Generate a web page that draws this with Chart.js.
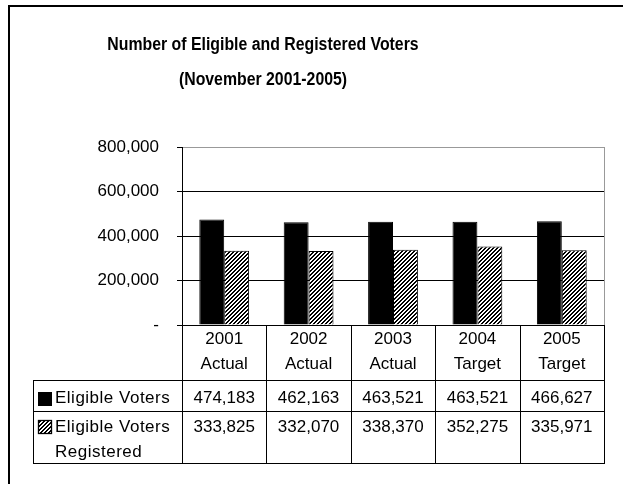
<!DOCTYPE html>
<html>
<head>
<meta charset="utf-8">
<script src="https://cdn.jsdelivr.net/npm/chart.js@4"></script>
<style>
  html, body { margin: 0; padding: 0; background: #fff; }
  #wrap { position: relative; width: 623px; height: 484px; }
</style>
</head>
<body>
<div id="wrap"><canvas id="c" width="623" height="484"></canvas></div>
<script>
// ---- data ----
const titleLines = ['Number of Eligible and Registered Voters', '(November 2001-2005)'];
const categories = [['2001', 'Actual'], ['2002', 'Actual'], ['2003', 'Actual'], ['2004', 'Target'], ['2005', 'Target']];
const seriesNames = [['Eligible Voters'], ['Eligible Voters', 'Registered']];
const eligibleVoters = [474183, 462163, 463521, 463521, 466627];
const registeredVoters = [333825, 332070, 338370, 352275, 335971];
const yTicks = [0, 200000, 400000, 600000, 800000];

const FONT = "'Liberation Sans', Arial, sans-serif";
Chart.defaults.font.family = FONT;
Chart.defaults.color = '#000';

function makeHatch() {
  const p = document.createElement('canvas');
  p.width = 4; p.height = 4;
  const g = p.getContext('2d');
  g.fillStyle = '#fff'; g.fillRect(0, 0, 4, 4);
  g.fillStyle = '#000';
  for (let y = 0; y < 4; y++) for (let x = 0; x < 4; x++) {
    const k = (x + y) % 4;
    if (k === 0 || k === 1) g.fillRect(x, y, 1, 1);
  }
  return g.createPattern(p, 'repeat');
}
const hatch = makeHatch();

const fmt = v => v.toLocaleString('en-US');

const tablePlugin = {
  id: 'tablePlugin',
  beforeDraw(chart) {
    const ctx = chart.ctx;
    ctx.save();
    // title
    ctx.fillStyle = '#000';
    ctx.font = 'bold 18px ' + FONT;
    ctx.textAlign = 'center';
    ctx.textBaseline = 'middle';
    ctx.translate(263, 0);
    ctx.scale(0.88, 1);
    ctx.fillText(titleLines[0], 0, 45);
    ctx.fillText(titleLines[1], 0, 80);
    ctx.restore();
  },
  afterDraw(chart) {
    const ctx = chart.ctx;
    const ca = chart.chartArea;
    const xs = chart.scales.x;
    const n = categories.length;
    const step = (ca.right - ca.left) / n;
    const tableLeft = 33;
    const rowTop = 380, rowMid = 411, rowBot = 463;
    ctx.save();
    // outer frame (top & left visible)
    ctx.fillStyle = '#000';
    ctx.fillRect(8, 5, 2, 484);
    ctx.fillRect(8, 5, 623, 2);
    // plot-area right border
    ctx.strokeStyle = '#999';
    ctx.lineWidth = 1;
    ctx.beginPath();
    ctx.moveTo(Math.round(ca.right) + 0.5, ca.top);
    ctx.lineTo(Math.round(ca.right) + 0.5, ca.bottom);
    ctx.stroke();
    // table grid
    ctx.strokeStyle = '#000';
    ctx.beginPath();
    [rowTop, rowMid, rowBot].forEach(y => {
      ctx.moveTo(tableLeft, y + 0.5); ctx.lineTo(Math.round(ca.right) + 1, y + 0.5);
    });
    ctx.moveTo(tableLeft + 0.5, rowTop); ctx.lineTo(tableLeft + 0.5, rowBot + 1);
    for (let i = 0; i <= n; i++) {
      const x = Math.round(ca.left + i * step) + 0.5;
      ctx.moveTo(x, ca.bottom); ctx.lineTo(x, rowBot + 1);
    }
    ctx.stroke();
    // legend keys
    ctx.fillStyle = '#000';
    ctx.fillRect(38, 392, 14, 14);
    ctx.fillStyle = hatch;
    ctx.fillRect(38.5, 420.5, 13, 13);
    ctx.strokeStyle = '#000';
    ctx.lineWidth = 1.3;
    ctx.strokeRect(38.5, 420.5, 13, 13);
    // text
    ctx.fillStyle = '#000';
    ctx.font = '17px ' + FONT;
    ctx.textBaseline = 'middle';
    ctx.textAlign = 'left';
    ctx.letterSpacing = '0.5px';
    ctx.fillText(seriesNames[0][0], 55, 398);
    ctx.fillText(seriesNames[1][0], 55, 427);
    ctx.fillText(seriesNames[1][1], 55, 452);
    ctx.letterSpacing = '0px';
    ctx.textAlign = 'center';
    for (let i = 0; i < n; i++) {
      const cx = xs.getPixelForValue(i);
      ctx.fillText(fmt(eligibleVoters[i]), cx, 398);
      ctx.fillText(fmt(registeredVoters[i]), cx, 427);
    }
    ctx.restore();
  }
};

new Chart(document.getElementById('c'), {
  type: 'bar',
  data: {
    labels: categories,
    datasets: [
      { label: seriesNames[0].join(' '), data: eligibleVoters, backgroundColor: '#000', borderColor: '#000', borderWidth: 1,
        categoryPercentage: 0.59, barPercentage: 1.0 },
      { label: seriesNames[1].join(' '), data: registeredVoters, backgroundColor: hatch, borderColor: '#000', borderWidth: 1,
        categoryPercentage: 0.59, barPercentage: 1.0 }
    ]
  },
  options: {
    responsive: false,
    animation: false,
    devicePixelRatio: 1,
    layout: { padding: { left: 0, right: 19, top: 147, bottom: 105 } },
    plugins: {
      legend: { display: false },
      tooltip: { enabled: false },
      title: { display: false }
    },
    scales: {
      x: {
        grid: { display: false, drawTicks: false },
        border: { display: true, color: '#000', width: 1 },
        ticks: { font: { size: 17, lineHeight: 25 / 17 }, color: '#000', padding: 2, maxRotation: 0, autoSkip: false }
      },
      y: {
        min: 0, max: 800000,
        afterFit(scale) { scale.width = 182; },
        afterBuildTicks(scale) { scale.ticks = yTicks.map(v => ({ value: v })); },
        grid: {
          color: ctx => (ctx.tick && ctx.tick.value === 800000) ? '#999' : '#000',
          tickColor: '#000',
          tickLength: 5,
          drawTicks: true
        },
        border: { display: true, color: '#000', width: 1 },
        ticks: {
          font: { size: 17 },
          color: '#000',
          padding: 18,
          callback: v => v === 0 ? '-' : fmt(v)
        }
      }
    }
  },
  plugins: [tablePlugin]
});
</script>
</body>
</html>
